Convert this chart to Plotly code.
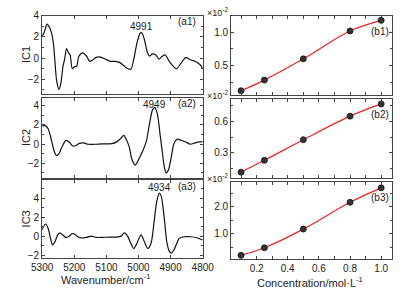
import plotly.graph_objects as go

# ---------------- data ----------------
wn_a1 = [5300, 5294, 5285, 5279, 5272, 5265, 5260, 5255, 5248, 5242, 5235, 5230, 5224, 5218, 5213,
         5206, 5199, 5193, 5186, 5174, 5162, 5152, 5144, 5132, 5118, 5103, 5088, 5073, 5059, 5046,
         5039, 5024, 5015, 5005, 4995, 4990, 4982, 4973, 4966, 4956, 4946, 4936, 4927, 4917, 4902,
         4882, 4868, 4853, 4838, 4824, 4809, 4800]
ic1 = [2.1, 2.4, 3.2, 3.0, 2.5, 1.4, -0.4, -2.1, -2.95, -2.4, -0.75, -0.1, 0.9, 0.5, 0.3,
       -1.0, -0.8, -0.8, 0.15, 0.5, 0.2, -0.3, -0.2, 0.07, 0.1, -0.1, -0.3, -0.3, -0.4, -0.7,
       -0.9, -1.05, -0.14, 1.4, 2.35, 2.4, 1.8, 0.6, 0.2, 0.4, 0.3, -0.1, 0.15, 0.3, -0.4,
       -1.0, -0.5, 0.05, -0.15, -0.3, -0.6, -0.95]

wn_a2 = [5300, 5289, 5281, 5271, 5262, 5255, 5248, 5238, 5226, 5216, 5206, 5196, 5186, 5171, 5157,
         5137, 5113, 5083, 5069, 5056, 5046, 5039, 5029, 5020, 5010, 5000, 4988, 4976, 4966, 4956,
         4949, 4941, 4933, 4926, 4919, 4914, 4907, 4899, 4890, 4880, 4868, 4853, 4838, 4824, 4809,
         4800]
ic2 = [1.9, 1.9, 1.57, 0.39, -0.8, -1.2, -1.03, -0.28, 0.39, 0.22, -0.18, -0.18, 0.05, 0.12, -0.02,
       -0.02, 0.02, 0.05, 0.2, 0.56, 0.9, 0.56, -0.3, -1.64, -2.2, -1.64, -0.8, 0.22, 2.08, 3.6,
       3.8, 3.1, 1.07, -0.8, -2.49, -3.0, -2.72, -1.54, 0.0, 0.5, 0.4, 0.22, -0.02, 0.12, 0.22,
       0.22]

wn_a3 = [5300, 5297, 5289, 5281, 5274, 5268, 5260, 5252, 5245, 5235, 5226, 5216, 5206, 5199, 5189,
         5176, 5162, 5147, 5132, 5113, 5093, 5069, 5054, 5044, 5034, 5024, 5015, 5005, 4992, 4982,
         4971, 4961, 4951, 4943, 4935, 4929, 4920, 4912, 4904, 4897, 4887, 4873, 4858, 4838, 4819,
         4800]
ic3 = [0.7, 0.97, 1.3, 0.8, -0.22, -0.9, -0.56, 0.12, 0.36, 0.12, -0.12, 0.02, 0.29, 0.23, -0.05,
       -0.18, -0.12, 0.02, -0.12, -0.12, -0.08, -0.08, 0.02, 0.36, 0.02, -0.74, -1.3, -0.74, 0.15, -0.56,
       -1.3, -0.74, 1.66, 3.71, 4.56, 4.22, 2.0, -0.56, -1.59, -1.78, -1.25, -0.22, -0.05, -0.05, -0.15,
       -0.4]

conc = [0.1, 0.25, 0.5, 0.8, 1.0]
b1 = [0.12, 0.28, 0.60, 1.02, 1.18]
b2 = [0.118, 0.23, 0.425, 0.648, 0.764]
b3 = [0.19, 0.475, 1.17, 2.17, 2.71]

peak_labels = ["4991", "4949", "4934"]
peak_pos = [4991, 4949, 4934]
panel_a = ["(a1)", "(a2)", "(a3)"]
panel_b = ["(b1)", "(b2)", "(b3)"]
ic_titles = ["IC1", "IC2", "IC3"]

# ---------------- layout helpers ----------------
W, H = 414, 294
FONT = "Liberation Sans, Arial, sans-serif"
AX = "#444444"


def px_x(x):
    return x / W


def px_y(y):
    return 1 - y / H


left_dom = [px_x(33), px_x(203)]
right_dom = [px_x(233), px_x(403)]
left_rows = [(10, 91), (95, 177), (180, 260)]
right_rows = [(10, 91.5), (96, 177.3), (181.5, 261.5)]
peak_rows = [21, 102, 187]

fig = go.Figure()

left_specs = [(wn_a1, ic1, [-3.4, 4.0]), (wn_a2, ic2, [-3.5, 4.8]), (wn_a3, ic3, [-2.3, 5.9])]
right_specs = [(b1, [0.06, 1.25], 0.5), (b2, [0.064, 0.81], 0.3), (b3, [0.036, 2.93], 1.0)]

base_axis = dict(showgrid=False, zeroline=False, showline=True, linecolor=AX, linewidth=1,
                 mirror="allticks", ticks="inside", ticklen=3, tickcolor=AX,
                 tickfont=dict(family=FONT, size=10, color="#222"))


def ann(x, y, text, size=10, xref="paper", xanchor="center", angle=0):
    return dict(x=x, y=y, xref=xref, yref="paper", text=text, showarrow=False,
                xanchor=xanchor, yanchor="middle", textangle=angle,
                font=dict(family=FONT, size=size, color="#222"))


annotations = []
for i in range(3):
    # left panel
    xa = 2 * i + 1
    ya = 2 * i + 1
    xs, ys, rng = left_specs[i]
    fig.add_trace(go.Scatter(x=xs, y=ys, mode="lines", line=dict(color="#111", width=1.2, shape="spline", smoothing=0.8),
                             xaxis=f"x{xa}", yaxis=f"y{ya}", showlegend=False, hoverinfo="skip"))
    t, b = left_rows[i]
    fig.layout[f"xaxis{xa}"] = dict(base_axis, domain=left_dom, anchor=f"y{ya}", range=[5300, 4800],
                                    dtick=100, tick0=4800, showticklabels=(i == 2))
    fig.layout[f"yaxis{ya}"] = dict(base_axis, domain=[px_y(b), px_y(t)], anchor=f"x{xa}", range=rng,
                                    dtick=2, tick0=0, minor=dict(dtick=1, ticks="inside", ticklen=2, tickcolor=AX))
    # right panel
    xb = 2 * i + 2
    yb = 2 * i + 2
    vals, rngb, dt = right_specs[i]
    fig.add_trace(go.Scatter(x=conc, y=vals, mode="lines", line=dict(color="#ee2222", width=1.2, shape="spline", smoothing=1.0),
                             xaxis=f"x{xb}", yaxis=f"y{yb}", showlegend=False, hoverinfo="skip"))
    fig.add_trace(go.Scatter(x=conc, y=vals, mode="markers",
                             marker=dict(color="#333", size=6, line=dict(color="#111", width=0.8)),
                             xaxis=f"x{xb}", yaxis=f"y{yb}", showlegend=False, hoverinfo="skip"))
    tb, bb = right_rows[i]
    fig.layout[f"xaxis{xb}"] = dict(base_axis, domain=right_dom, anchor=f"y{yb}", range=[0.036, 1.067],
                                    dtick=0.2, tick0=0, showticklabels=(i == 2), tickformat=".1f",
                                    minor=dict(dtick=0.1, ticks="inside", ticklen=3, tickcolor=AX))
    fig.layout[f"yaxis{yb}"] = dict(base_axis, domain=[px_y(bb), px_y(tb)], anchor=f"x{xb}", range=rngb,
                                    dtick=dt, tick0=0, tickformat=".1f",
                                    minor=dict(dtick=dt / 2, ticks="inside", ticklen=2, tickcolor=AX))

    annotations.append(ann(peak_pos[i], px_y(peak_rows[i]), peak_labels[i], xref=f"x{xa}"))
    annotations.append(ann(px_x(198), px_y(t + 6), panel_a[i], xanchor="right"))
    annotations.append(ann(px_x(16), px_y((t + b) / 2), ic_titles[i], size=11, angle=-90))
    annotations.append(ann(px_x(402), px_y(tb + 16), panel_b[i], xanchor="right"))
    annotations.append(ann(px_x(232), px_y(tb - 4), "×10<sup>-2</sup>", size=9, xanchor="right"))

annotations.append(ann(px_x(101), px_y(282), "Wavenumber/cm<sup>-1</sup>", size=11))
annotations.append(ann(px_x(317), px_y(285), "Concentration/mol·L<sup>-1</sup>", size=11))

fig.update_layout(width=W, height=H, margin=dict(l=0, r=0, t=0, b=0),
                  paper_bgcolor="white", plot_bgcolor="white", annotations=annotations,
                  font=dict(family=FONT))

fig.write_html("out.html", config={"displayModeBar": False},
               post_script="document.body.style.margin='0px';document.body.style.overflow='hidden';")
